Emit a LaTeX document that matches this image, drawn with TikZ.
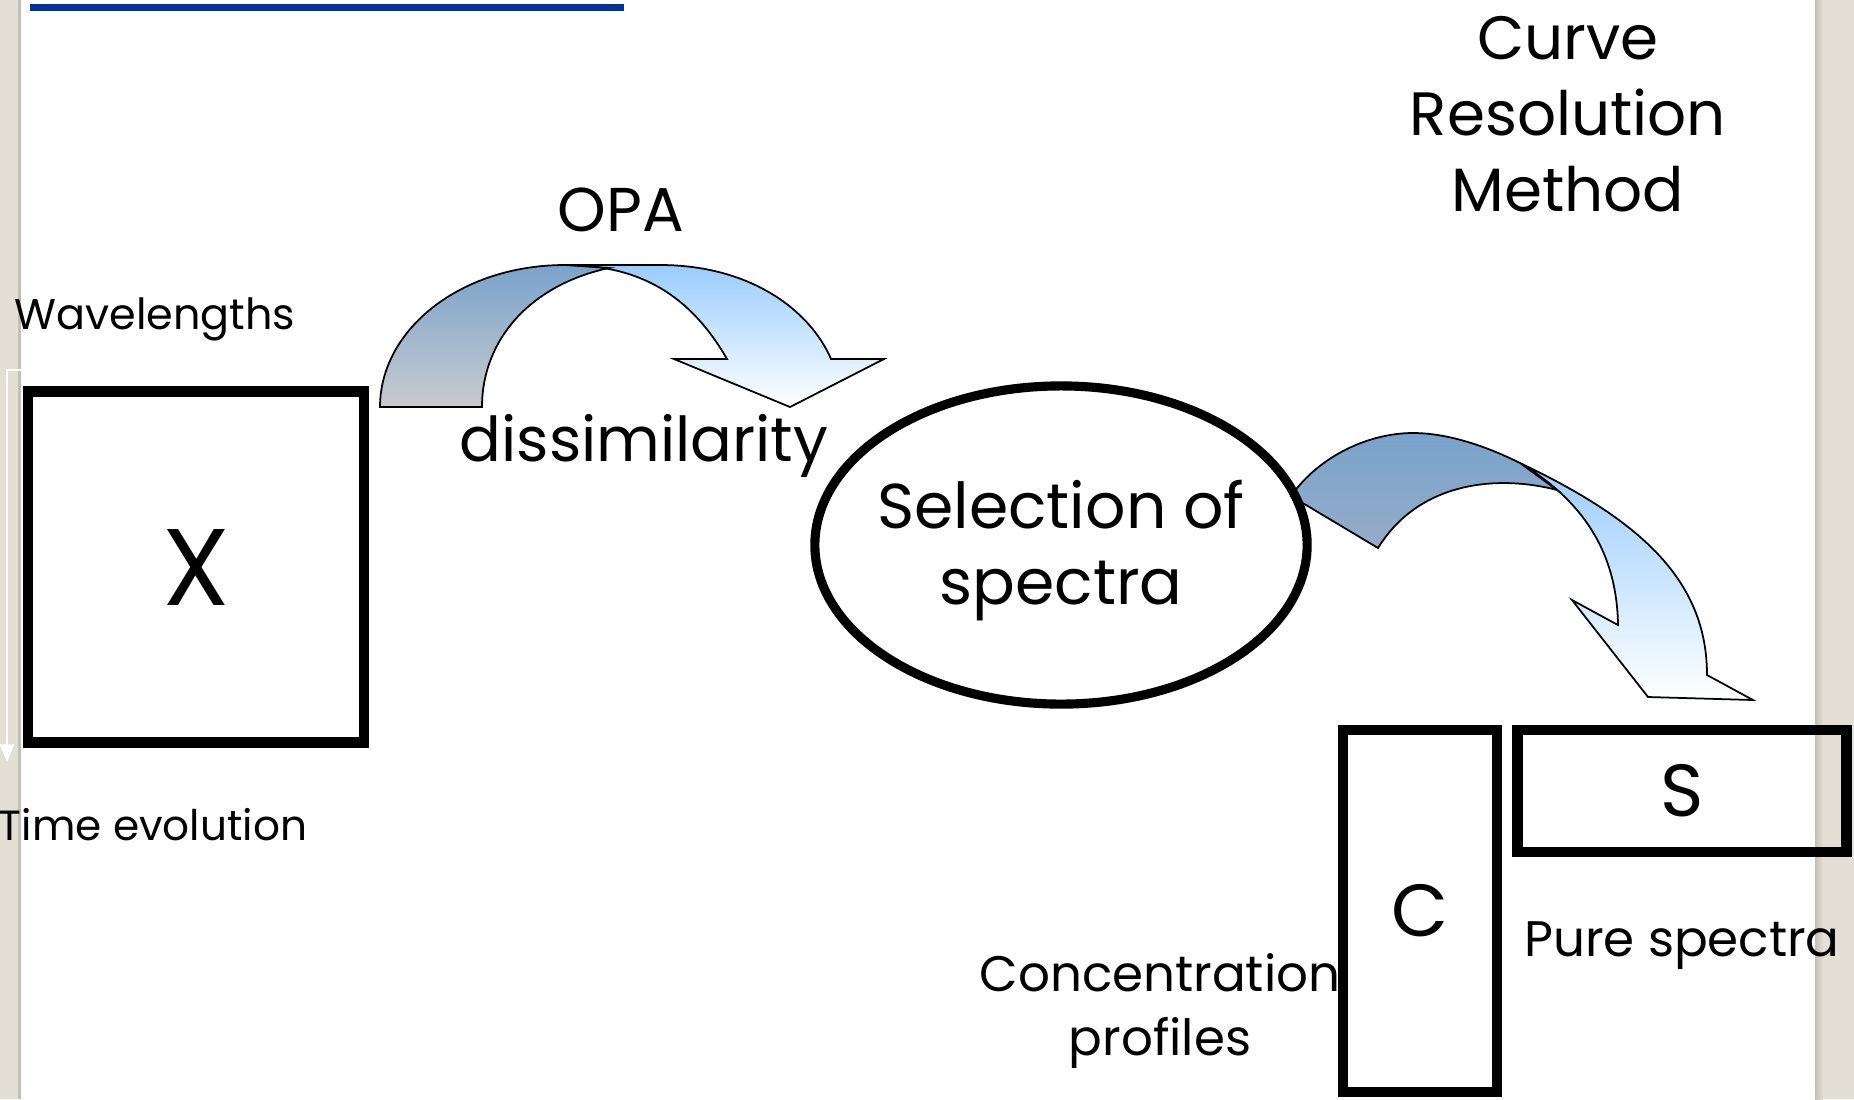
\documentclass[tikz,border=0pt]{standalone}
\usepackage{fontspec}
\setmainfont{Poppins}
\usetikzlibrary{arrows.meta}
\definecolor{slideblue}{RGB}{0,51,153}
\definecolor{strip}{RGB}{227,223,213}
\definecolor{stripedge}{RGB}{196,191,180}
\definecolor{bandtop}{RGB}{121,163,204}
\definecolor{bandlow}{RGB}{201,202,205}
\definecolor{bandmid}{RGB}{150,172,199}
\definecolor{headtop}{RGB}{153,204,255}

\begin{document}
\begin{tikzpicture}[x=0.01cm, y=-0.01cm,
    matbox/.style={draw, line width=3pt, inner sep=0pt},
    big/.style={font=\fontsize{17.6}{21.6}\selectfont},
    mid/.style={font=\fontsize{14.2}{18.2}\selectfont},
    small/.style={font=\fontsize{12.2}{15}\selectfont},
    back/.style={draw=black, line width=0.5pt, top color=bandtop, bottom color=bandlow},
    front/.style={draw=black, line width=0.5pt, top color=headtop, bottom color=white}]
  \useasboundingbox (0,0) rectangle (1854,1099);

  % slide edges and title rule
  \fill[strip] (0,0) rectangle (21,1099);
  \fill[stripedge] (18,0) rectangle (21,1099);
  \fill[strip] (1815,0) rectangle (1854,1099);
  \shade[left color=stripedge, right color=strip] (1815,0) rectangle (1823,1099);
  \fill[slideblue] (30,4) rectangle (624,11);

  % data matrix
  \node[matbox, minimum width=95.6pt, minimum height=99.9pt,
        font=\fontsize{31}{36}\selectfont] (X) at (196,567) {X};
  \node[small] (wave) at (155,319) {Wavelengths};
  \node[small, font=\fontsize{12}{15}\selectfont, inner sep=0pt] (time) at (153,825) {Time evolution};
  \coordinate (tA) at (23,370);
  \coordinate (tB) at (7,370);
  \coordinate (tC) at (7,762);
  \draw[white, line width=0.7pt, -{Triangle[width=4pt,length=5pt]}] (tA) -- (tB) -- (tC);

  % OPA arrow
  \shadedraw[front] (565,265) -- (660,265) .. controls (750,265) and (810,310) .. (831,359)
    -- (884,359) -- (790,407) -- (674,359) -- (727,359)
    .. controls (690,295) and (640,265) .. (565,265) -- cycle;
  \shadedraw[back] (380,407) .. controls (380,330) and (460,265) .. (565,265) -- (609,268)
    .. controls (530,285) and (482,340) .. (482,407) -- cycle;
  \node[big] (opa) at (621,210) {OPA};
  \node[big] (diss) at (644,446) {dissimilarity};

  % curve resolution arrow
  \shadedraw[front] (1520,463) .. controls (1640,520) and (1707,580) .. (1707,675)
    -- (1753,700) -- (1648,697) -- (1572,600) -- (1618,625)
    .. controls (1617,560) and (1590,505) .. (1520,463) -- cycle;
  \shadedraw[back, bottom color=bandmid] (1291,496) .. controls (1320,455) and (1370,433) .. (1413,433)
    .. controls (1450,433) and (1490,448) .. (1520,463) -- (1557,490)
    .. controls (1500,475) and (1420,480) .. (1378,548) -- cycle;

  % selection
  \node[font=\fontsize{18}{21.6}\selectfont, align=center, inner sep=0pt] (sel) at (1061,551) {Selection of\\spectra};
  \draw[line width=2.6pt] (1061,545) ellipse [x radius=2.46cm, y radius=1.59cm];

  \node[font=\fontsize{17.4}{21.6}\selectfont, align=center] (crm) at (1568,114) {Curve\\Resolution\\Method};

  % resolved matrices
  \node[matbox, minimum width=43.8pt, minimum height=103pt,
        font=\fontsize{21}{25}\selectfont] (C) at (1420,911) {C};
  \node[matbox, minimum width=93.6pt, minimum height=34.7pt,
        font=\fontsize{21}{25}\selectfont] (S) at (1682,791) {S};
  \node[mid] (pure) at (1682,946) {Pure spectra};
  \node[mid, align=center] (conc) at (1160,1011) {Concentration\\profiles};
\end{tikzpicture}
\end{document}
